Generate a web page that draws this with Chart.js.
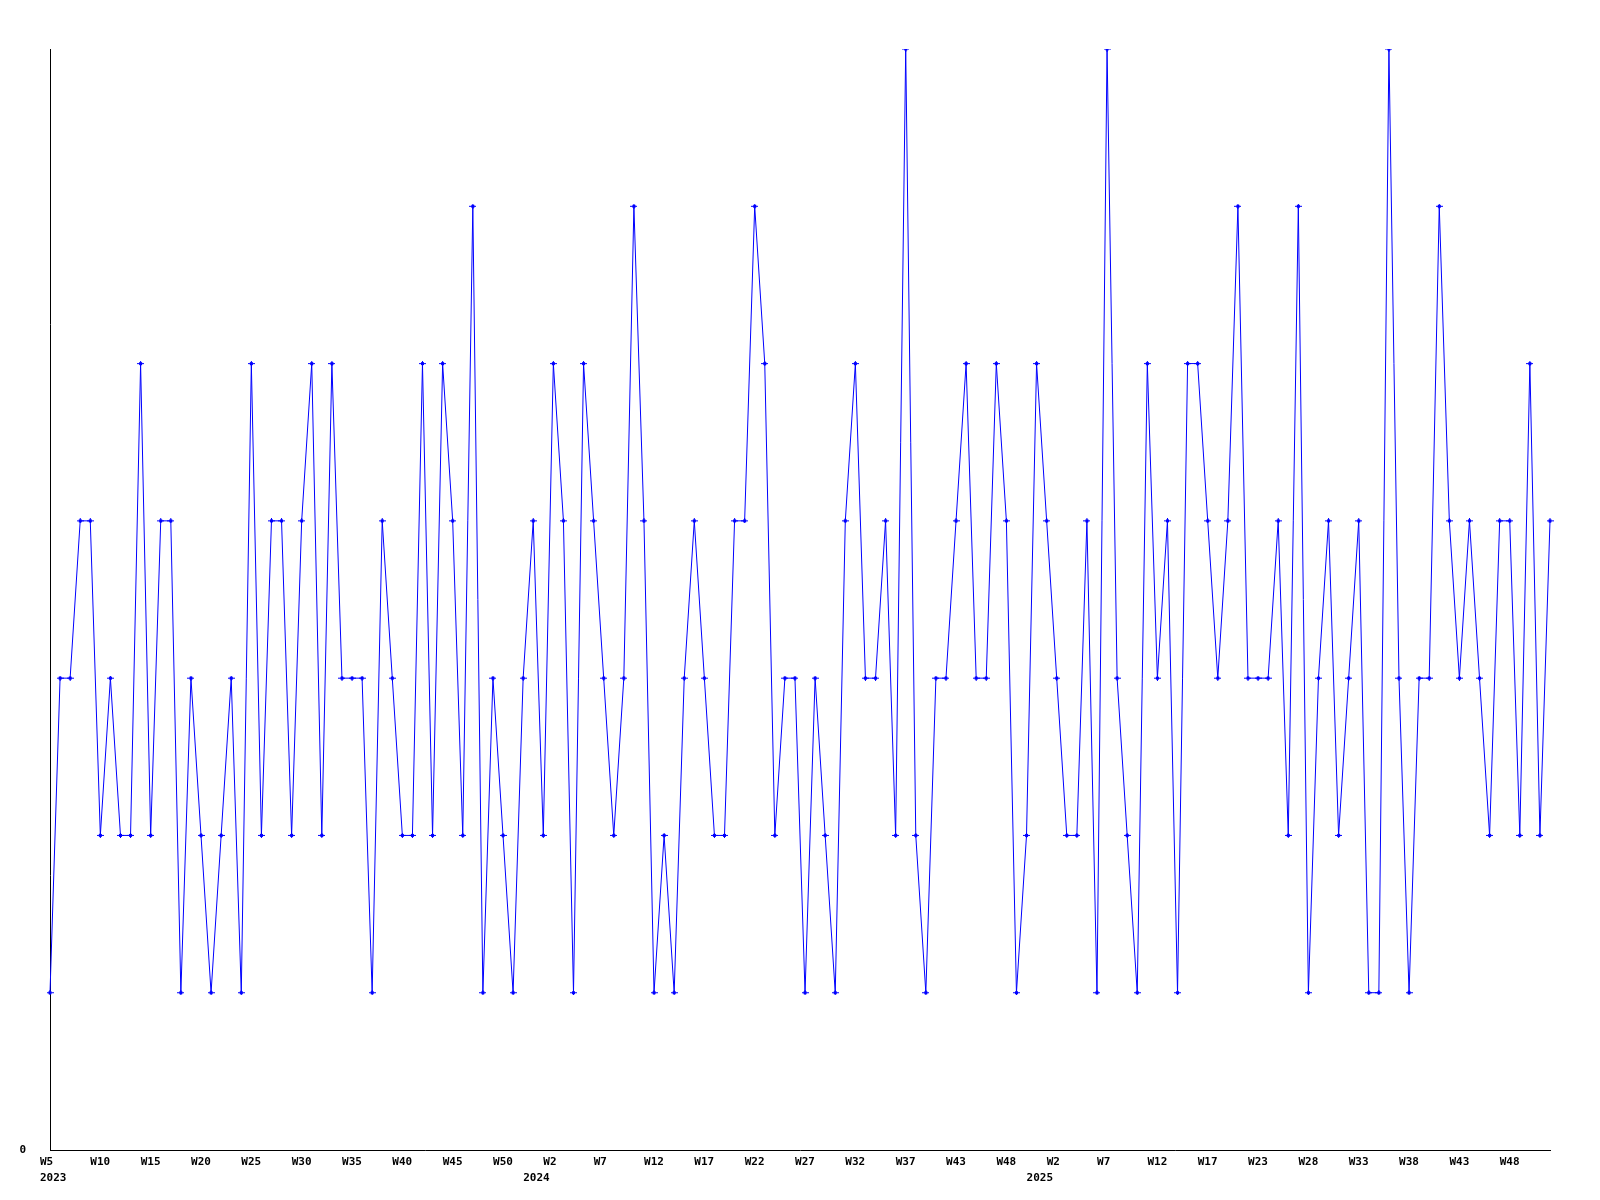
<!DOCTYPE html>
<html>
<head>
<meta charset="utf-8">
<title>Weekly chart</title>
<script src="https://cdn.jsdelivr.net/npm/chart.js@4/dist/chart.umd.min.js"></script>
<style>
  html, body { margin: 0; padding: 0; background: #fff; }
  #wrap { width: 1600px; height: 1200px; position: relative; }
</style>
</head>
<body>
<div id="wrap"><canvas id="weeklyChart"></canvas></div>
<script>
// Weekly values, starting at W5 2023
const values = [
  1, 3, 3, 4, 4, 2, 3, 2, 2, 5,
  2, 4, 4, 1, 3, 2, 1, 2, 3, 1,
  5, 2, 4, 4, 2, 4, 5, 2, 5, 3,
  3, 3, 1, 4, 3, 2, 2, 5, 2, 5,
  4, 2, 6, 1, 3, 2, 1, 3, 4, 2,
  5, 4, 1, 5, 4, 3, 2, 3, 6, 4,
  1, 2, 1, 3, 4, 3, 2, 2, 4, 4,
  6, 5, 2, 3, 3, 1, 3, 2, 1, 4,
  5, 3, 3, 4, 2, 7, 2, 1, 3, 3,
  4, 5, 3, 3, 5, 4, 1, 2, 5, 4,
  3, 2, 2, 4, 1, 7, 3, 2, 1, 5,
  3, 4, 1, 5, 5, 4, 3, 4, 6, 3,
  3, 3, 4, 2, 6, 1, 3, 4, 2, 3,
  4, 1, 1, 7, 3, 1, 3, 3, 6, 4,
  3, 4, 3, 2, 4, 4, 2, 5, 2, 4
];

// Week labels, one every 5 weeks
const weekLabels = [
  "W5", "W10", "W15", "W20", "W25", "W30", "W35", "W40", "W45", "W50",
  "W2", "W7", "W12", "W17", "W22", "W27", "W32", "W37", "W43", "W48",
  "W2", "W7", "W12", "W17", "W23", "W28", "W33", "W38", "W43", "W48"
];
const tickEvery = 5;

// Year labels and the week (index) where each year starts
const yearLabels = ["2023", "2024", "2025"];
const yearStarts = [0, 48, 98];

const categories = values.map((v, i) => i);

// small marker: diamond with a horizontal dash
const marker = document.createElement("canvas");
marker.width = 7;
marker.height = 5;
const mctx = marker.getContext("2d");
mctx.fillStyle = "#0000ff";
mctx.fillRect(0, 2, 7, 1);
mctx.fillRect(2, 1, 3, 3);
mctx.fillRect(3, 0, 1, 5);

const tickFont = { family: "'DejaVu Sans Mono', monospace", size: 11, weight: "bold" };

const ctx = document.getElementById("weeklyChart").getContext("2d");

new Chart(ctx, {
  type: "line",
  data: {
    labels: categories,
    datasets: [
      {
        data: values,
        borderColor: "#0000ff",
        borderWidth: 1,
        tension: 0,
        fill: false,
        pointStyle: marker,
        pointRadius: 3,
        pointHoverRadius: 3,
      },
    ],
  },
  options: {
    responsive: true,
    maintainAspectRatio: false,
    animation: false,
    layout: { padding: { top: 49, right: 50, left: 0, bottom: 0 } },
    plugins: {
      legend: { display: false },
      tooltip: { enabled: false },
    },
    scales: {
      x: {
        type: "category",
        offset: false,
        weight: 0,
        grid: { display: false, drawTicks: false },
        border: { display: true, color: "#000", width: 1 },
        ticks: {
          autoSkip: false,
          maxRotation: 0,
          minRotation: 0,
          align: "start",
          labelOffset: -10,
          padding: 6,
          color: "#000",
          font: tickFont,
          callback: (val, i) => (i % tickEvery === 0 ? weekLabels[i / tickEvery] : ""),
        },
        afterFit: (scale) => { scale.height = 16; },
      },
      // second row under the weeks: the years
      x2: {
        type: "category",
        position: "bottom",
        offset: false,
        weight: 1,
        grid: { display: false, drawTicks: false },
        border: { display: false },
        ticks: {
          autoSkip: false,
          maxRotation: 0,
          minRotation: 0,
          align: "start",
          labelOffset: -10,
          padding: 6,
          color: "#000",
          font: tickFont,
          callback: (val, i) => {
            const k = yearStarts.indexOf(i);
            return k >= 0 ? yearLabels[k] : "";
          },
        },
        afterFit: (scale) => { scale.height = 34; },
      },
      y: {
        min: 0,
        max: 7,
        grid: { display: false, drawTicks: false },
        border: { display: true, color: "#000", width: 1 },
        ticks: {
          stepSize: 1,
          padding: 24,
          color: "#000",
          font: tickFont,
          callback: (v) => (v === 0 ? "0" : ""),
        },
        afterFit: (scale) => { scale.width = 50; },
      },
    },
  },
});
</script>
</body>
</html>
